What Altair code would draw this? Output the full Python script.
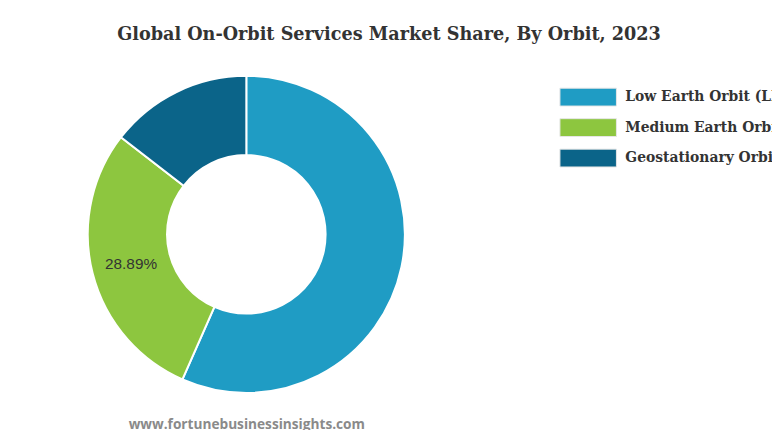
import altair as alt
import pandas as pd

orbits = ["Low Earth Orbit (LEO)", "Medium Earth Orbit (MEO)", "Geostationary Orbit (GEO)"]
shares = [56.6, 28.89, 14.51]
labels = ["", "28.89%", ""]
colors = ["#1F9CC4", "#8DC63F", "#0B6489"]
title_text = "Global On-Orbit Services Market Share, By Orbit, 2023"
source_text = "www.fortunebusinessinsights.com"

df = pd.DataFrame({"orbit": orbits, "share": shares, "label": labels, "order": [0, 1, 2]})
src = pd.DataFrame({"t": [source_text]})

color = alt.Color("orbit:N", scale=alt.Scale(domain=orbits, range=colors), legend=None)

CX, CY = 240.5, 196.5

base = alt.Chart(df).encode(
    theta=alt.Theta("share:Q", stack=True),
    order=alt.Order("order:Q"),
)

arcs = base.mark_arc(innerRadius=80, outerRadius=160, stroke="white", strokeWidth=2).encode(
    color=color, x=alt.value(CX), y=alt.value(CY)
)

arc_text = base.mark_text(radius=120, font="Liberation Sans", fontSize=15.5, color="#333333").encode(
    text="label:N", x=alt.value(CX), y=alt.value(CY)
)

ly = alt.Y("orbit:N", scale=alt.Scale(type="point", domain=orbits, range=[58, 119.5], padding=0), axis=None)

swatches = alt.Chart(df).mark_point(
    shape="M-1,-0.316L1,-0.316L1,0.316L-1,0.316Z",
    size=3249, filled=True, opacity=1, stroke="#e6e6e6", strokeWidth=1,
).encode(x=alt.value(585.5), y=ly, fill=color)

leg_text = alt.Chart(df).mark_text(
    align="left", baseline="middle", font="DejaVu Serif", fontWeight="bold",
    fontSize=14, color="#333333",
).encode(x=alt.value(623), y=ly, text="orbit:N")

watermark = alt.Chart(src).mark_text(
    font="Open Sans", fontWeight="bold", fontSize=13.8, color="#8a8a8a"
).encode(x=alt.value(241), y=alt.value(389), text="t:N")

chart = alt.layer(arcs, arc_text, swatches, leg_text, watermark).properties(
    width=771,
    height=392,
    autosize=alt.AutoSizeParams(type="none"),
    padding={"left": 0, "top": 30, "right": 0, "bottom": 0},
    title=alt.Title(title_text, font="DejaVu Serif", fontSize=17.8, fontWeight="bold",
                    color="#333333", anchor="middle", dx=-1, dy=24, offset=6, baseline="alphabetic"),
).configure_view(stroke=None)

chart.save("out.html", embed_options={"renderer": "svg", "actions": False})
